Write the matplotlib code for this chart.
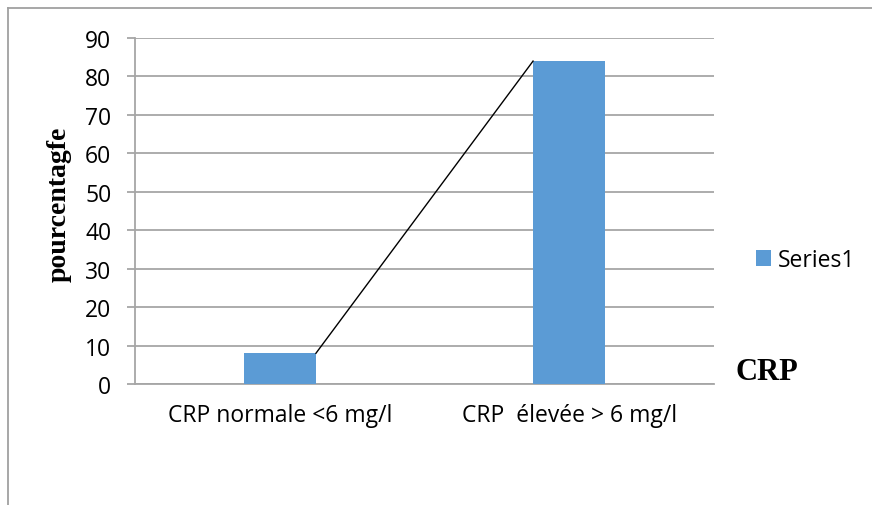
import matplotlib
matplotlib.use('Agg')
import matplotlib.pyplot as plt
from matplotlib.lines import Line2D

categories = ['CRP normale <6 mg/l', 'CRP  élevée > 6 mg/l']
values = [8, 84]
series_name = 'Series1'
y_ticks = [0, 10, 20, 30, 40, 50, 60, 70, 80, 90]

bar_color = '#5B9BD5'
grid_color = '#A6A6A6'
bar_width = 0.25

plt.rcParams['font.family'] = ['Open Sans', 'DejaVu Sans']

fig = plt.figure(figsize=(8.72, 5.06), dpi=100)
ax = fig.add_axes([0.1548, 0.2391, 0.664, 0.6838])

x = list(range(len(categories)))
ax.bar(x, values, width=bar_width, color=bar_color, label=series_name, zorder=3)

# connector line from the right top corner of bar 1 to left top corner of bar 2
ax.plot([x[0] + bar_width / 2, x[1] - bar_width / 2], values, color='black', lw=1, zorder=4)

ax.set_xlim(-0.5, 1.5)
ax.set_ylim(0, 90)
ax.set_yticks(y_ticks)
ax.set_xticks(x)
ax.set_xticklabels(categories, fontsize=16.5)
ax.tick_params(axis='y', labelsize=16.5, length=6, color=grid_color, width=1.3, pad=11)
ax.tick_params(axis='x', length=0, pad=14)
ax.yaxis.grid(True, color=grid_color, lw=1.3, zorder=0)
for side in ['top', 'right']:
    ax.spines[side].set_visible(False)
for side in ['left', 'bottom']:
    ax.spines[side].set_color(grid_color)
    ax.spines[side].set_linewidth(1.3)

ax.legend(loc='center left', bbox_to_anchor=(1.072, 0.358), frameon=False, fontsize=16.5,
          borderaxespad=0, borderpad=0, handlelength=0.65, handleheight=0.65, handletextpad=0.3)

fig.text(0.068, 0.597, 'pourcentagfe', rotation=90, ha='center', va='center',
         family='Liberation Serif', fontweight='bold', fontsize=20)
fig.text(0.843, 0.249, 'CRP', ha='left', va='baseline',
         family='Liberation Serif', fontweight='bold', fontsize=22)

# outer frame (left and top edges visible)
fig.add_artist(Line2D([0.0092, 0.0092], [0, 0.982], transform=fig.transFigure, color='#A0A0A0', lw=1.3))
fig.add_artist(Line2D([0.0092, 1], [0.982, 0.982], transform=fig.transFigure, color='#A0A0A0', lw=1.3))

fig.savefig('out.png', dpi=100)
